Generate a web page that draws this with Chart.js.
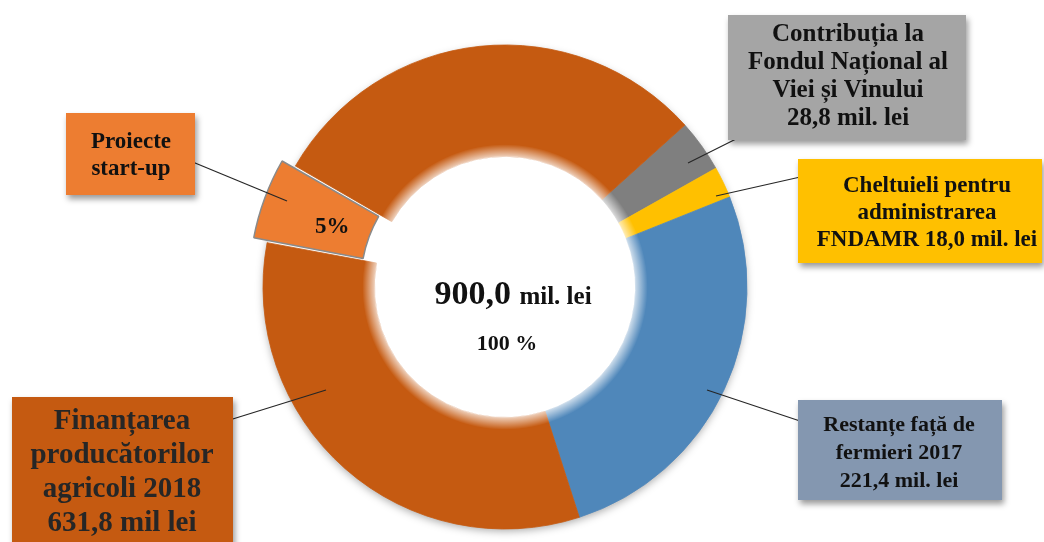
<!DOCTYPE html>
<html lang="ro">
<head>
<meta charset="utf-8">
<title>FNDAMR 2018 – 900,0 mil. lei</title>
<script src="https://cdn.jsdelivr.net/npm/chart.js@4.4.1/dist/chart.umd.min.js"></script>
<style>
  html, body { margin:0; padding:0; background:#fff; }
  #wrap { position:relative; width:1044px; height:542px; }
</style>
</head>
<body>
<div id="wrap"><canvas id="pie" width="1044" height="542"></canvas></div>
<script>
/* ---------- A. Date ---------- */
// ordinea feliilor, in sensul acelor de ceasornic, pornind de la felia gri
const sliceNames  = ['Contribuția FNVV', 'Cheltuieli FNDAMR', 'Restanțe 2017',
                     'Finanțarea 2018', 'Proiecte start-up', 'Finanțarea 2018'];
const sliceShares = [3.5, 2.1, 26.1, 32.9, 5.4, 30.0];   // % din cerc, asa cum apar desenate
const sliceColors = ['#7F7F7F', '#FFC000', '#4F87BA', '#C55A11', '#ED7D31', '#C55A11'];
const sliceOffset = [0, 0, 0, 0, 34, 0];                  // felia start-up e scoasa in afara

const totalValue  = '900,0';
const totalUnit   = 'mil. lei';
const totalPct    = '100 %';
const startupPct  = '5%';

const labelGrey   = ['Contribuția la', 'Fondul Național al', 'Viei și Vinului', '28,8 mil. lei'];
const labelYellow = ['Cheltuieli pentru', 'administrarea', 'FNDAMR 18,0 mil. lei'];
const labelBlue   = ['Restanțe față de', 'fermieri 2017', '221,4 mil. lei'];
const labelOrange = ['Finanțarea', 'producătorilor', 'agricoli 2018', '631,8 mil lei'];
const labelStart  = ['Proiecte', 'start-up'];

/* ---------- B. Casete cu etichete ---------- */
const SERIF = '"Liberation Serif", "Times New Roman", serif';
const boxes = [
  { lines:labelGrey,   fill:'#A5A5A5', x:728, y:15,  w:238, h:125, size:25, cx:848, ys:[35,63,91,119],
    line:[[688,163],[742,136]] },
  { lines:labelYellow, fill:'#FFC000', x:798, y:159, w:244, h:104, size:23, cx:927, ys:[186,213,240],
    line:[[716,196],[818,173]] },
  { lines:labelBlue,   fill:'#8497B0', x:798, y:400, w:204, h:100, size:22, cx:899, ys:[425,453,481],
    line:[[707,390],[818,427]] },
  { lines:labelOrange, fill:'#C55A11', x:12,  y:397, w:221, h:160, size:29, cx:122, ys:[422,456,490,524],
    line:[[326,390],[207,427]], color:'#262626' },
  { lines:labelStart,  fill:'#ED7D31', x:66,  y:113, w:129, h:82,  size:23, cx:131, ys:[142,169],
    line:[[287,201],[183,158]] }
];

/* ---------- C. Plugin-uri ---------- */
const ringShadow = {
  id:'ringShadow',
  beforeDatasetsDraw(chart){
    const arc = chart.getDatasetMeta(0).data[0];
    const {x, y, outerRadius} = arc.getProps(['x','y','outerRadius'], true);
    const ctx = chart.ctx;
    ctx.save();
    ctx.shadowColor = 'rgba(0,0,0,0.35)';
    ctx.shadowBlur = 8;
    ctx.shadowOffsetY = 3;
    ctx.beginPath();
    ctx.arc(x, y, outerRadius - 1, 0, Math.PI * 2);
    ctx.fillStyle = '#fff';
    ctx.fill();
    ctx.restore();
  },
  afterDatasetsDraw(chart){
    // margine interioara estompata, ca in original
    const arc = chart.getDatasetMeta(0).data[0];
    const {x, y, innerRadius} = arc.getProps(['x','y','innerRadius'], true);
    const ctx = chart.ctx;
    const g = ctx.createRadialGradient(x, y, innerRadius - 1, x, y, innerRadius + 12);
    g.addColorStop(0, 'rgba(255,255,255,0.75)');
    g.addColorStop(1, 'rgba(255,255,255,0)');
    ctx.save();
    ctx.beginPath();
    ctx.arc(x, y, innerRadius + 12, 0, Math.PI * 2);
    ctx.arc(x, y, innerRadius - 1, 0, Math.PI * 2, true);
    ctx.fillStyle = g;
    ctx.fill();
    ctx.restore();
  }
};

const labelsPlugin = {
  id:'labelsPlugin',
  afterDraw(chart){
    const ctx = chart.ctx;
    const meta = chart.getDatasetMeta(0);

    // text in centru
    const c = meta.data[0].getProps(['x','y'], true);
    ctx.save();
    ctx.fillStyle = '#111';
    ctx.textBaseline = 'alphabetic';
    ctx.font = 'bold 34px ' + SERIF;
    const w1 = ctx.measureText(totalValue + ' ').width;
    ctx.font = 'bold 25px ' + SERIF;
    const w2 = ctx.measureText(totalUnit).width;
    const sx = c.x + 8 - (w1 + w2) / 2;
    ctx.font = 'bold 34px ' + SERIF;
    ctx.textAlign = 'left';
    ctx.fillText(totalValue, sx, c.y + 17);
    ctx.font = 'bold 25px ' + SERIF;
    ctx.fillText(totalUnit, sx + w1, c.y + 17);
    ctx.font = 'bold 22px ' + SERIF;
    ctx.textAlign = 'center';
    ctx.textBaseline = 'middle';
    ctx.fillText(totalPct, c.x + 2, c.y + 57);

    // 5% pe felia scoasa
    const a = meta.data[4].getProps(['x','y','startAngle','endAngle','innerRadius','outerRadius'], true);
    const mid = (a.startAngle + a.endAngle) / 2;
    const r = (a.innerRadius + a.outerRadius) / 2 + 2;
    ctx.font = 'bold 23px ' + SERIF;
    ctx.fillText(startupPct, a.x + Math.cos(mid) * r + 4, a.y + Math.sin(mid) * r + 5);
    ctx.restore();

    // linii de legatura
    ctx.save();
    ctx.strokeStyle = '#262626';
    ctx.lineWidth = 1.2;
    boxes.forEach(b => {
      ctx.beginPath();
      ctx.moveTo(b.line[0][0], b.line[0][1]);
      ctx.lineTo(b.line[1][0], b.line[1][1]);
      ctx.stroke();
    });
    ctx.restore();

    // casete
    boxes.forEach(b => {
      ctx.save();
      ctx.shadowColor = 'rgba(0,0,0,0.4)';
      ctx.shadowBlur = 6;
      ctx.shadowOffsetX = 2;
      ctx.shadowOffsetY = 4;
      ctx.fillStyle = b.fill;
      ctx.fillRect(b.x, b.y, b.w, b.h);
      ctx.restore();

      ctx.save();
      ctx.fillStyle = b.color || '#111';
      ctx.font = 'bold ' + b.size + 'px ' + SERIF;
      ctx.textAlign = 'center';
      ctx.textBaseline = 'middle';
      b.lines.forEach((t, i) => ctx.fillText(t, b.cx, b.ys[i]));
      ctx.restore();
    });
  }
};

/* ---------- D. Grafic ---------- */
new Chart(document.getElementById('pie'), {
  type:'doughnut',
  data:{
    labels: sliceNames,
    datasets:[{
      data: sliceShares,
      backgroundColor: sliceColors,
      borderColor: sliceColors.map((col, i) => sliceOffset[i] ? '#8a8a8a' : col),
      borderWidth: sliceOffset.map(o => o ? 1.5 : 0.8),
      offset: sliceOffset,
      hoverOffset: 0
    }]
  },
  options:{
    responsive:false,
    animation:false,
    rotation:48,
    radius:242,
    cutout:'54%',
    layout:{ padding:{ left:0, right:34, top:32, bottom:0 } },
    plugins:{ legend:{ display:false }, tooltip:{ enabled:false } },
    events:[]
  },
  plugins:[ringShadow, labelsPlugin]
});
</script>
</body>
</html>
